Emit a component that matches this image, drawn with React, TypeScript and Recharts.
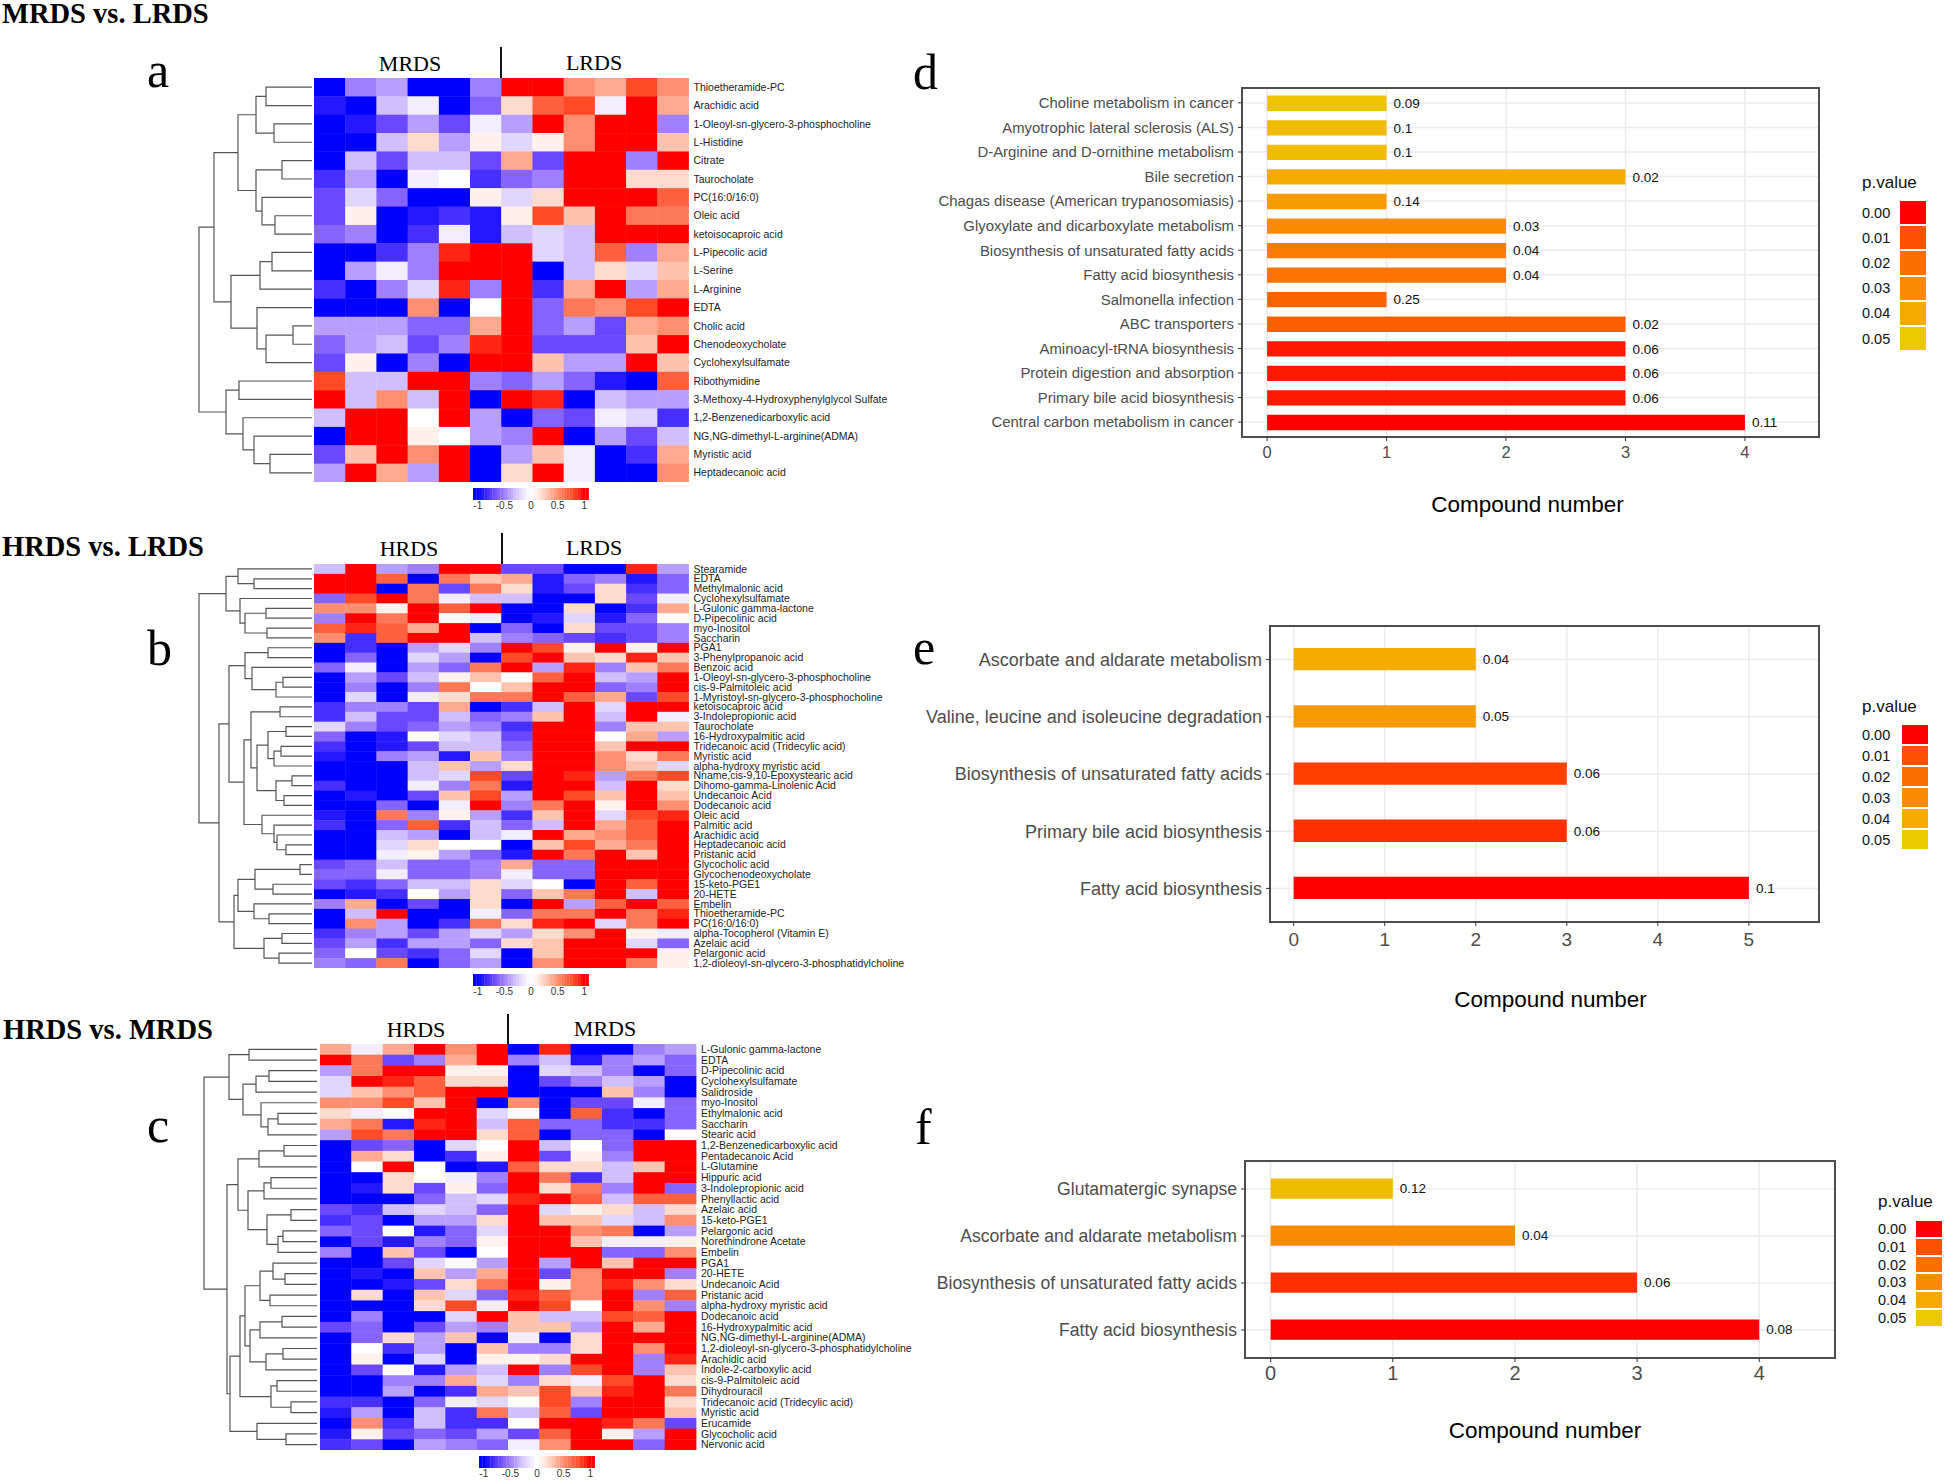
import React from "react";
import {
  Bar,
  BarChart,
  CartesianGrid,
  Cell,
  LabelList,
  Scatter,
  ScatterChart,
  XAxis,
  YAxis,
  usePlotArea,
} from "recharts";

const SANS = '"Liberation Sans", Arial, sans-serif';
const SERIF = '"Liberation Serif", "Times New Roman", serif';

// heatmap a, row labels top to bottom, values are z-score x 10
const metabolitesA = [
  "Thioetheramide-PC", "Arachidic acid", "1-Oleoyl-sn-glycero-3-phosphocholine", "L-Histidine", "Citrate",
  "Taurocholate", "PC(16:0/16:0)", "Oleic acid", "ketoisocaproic acid", "L-Pipecolic acid", "L-Serine",
  "L-Arginine", "EDTA", "Cholic acid", "Chenodeoxycholate", "Cyclohexylsulfamate", "Ribothymidine",
  "3-Methoxy-4-Hydroxyphenylglycol Sulfate", "1,2-Benzenedicarboxylic acid", "NG,NG-dimethyl-L-arginine(ADMA)",
  "Myristic acid", "Heptadecanoic acid",
];
const valuesA = [
  [-10, -5, -4, -10, -10, -5, 10, 10, 5, 4, 8, 5],
  [-9, -10, -3, -1, -10, -6, 2, 7, 8, -1, 10, 4],
  [-10, -9, -7, -4, -7, -1, -4, 10, 5, 10, 10, -5],
  [-10, -10, -3, 2, -4, 1, -2, 1, 5, 10, 10, 3],
  [-10, -3, -7, -3, -3, -7, 4, -7, 10, 10, -5, 10],
  [-8, -4, -10, -1, 0, -8, -6, -5, 10, 10, 2, 2],
  [-7, -2, -6, -10, -10, 1, -2, 2, 10, 10, 10, 7],
  [-7, 1, -10, -9, -8, -9, 1, 8, 3, 10, 6, 6],
  [-6, -5, -10, -8, -1, -9, -3, -2, -3, 10, 10, 10],
  [-10, -10, -8, -5, 9, 10, 10, -2, -3, 7, -5, 4],
  [-10, -4, -1, -5, 10, 10, 10, -10, -3, 2, -2, 3],
  [-8, -10, -5, -2, 9, -5, 10, -8, 4, 10, -4, 4],
  [-10, -10, -10, 5, -10, 0, 10, -6, 6, 5, 8, 10],
  [-4, -4, -4, -6, -6, 4, 10, -6, -4, -7, 4, 5],
  [-6, -4, -3, -7, -5, 9, 10, -7, -7, -7, 3, 10],
  [-7, 1, -10, -5, -10, 10, 10, 3, -4, -4, 10, 3],
  [8, -3, -3, 10, 10, -5, -6, -4, -6, -9, -10, 7],
  [10, -3, 5, -3, 10, -10, 10, 9, -10, -3, -4, -4],
  [-3, 10, 10, 0, 10, -4, -10, -6, -7, -1, -2, -8],
  [-10, 10, 10, 1, 0, -4, -5, 10, -10, -4, -7, -3],
  [-7, 3, 10, 5, 10, -10, -4, 3, -1, -10, -8, 4],
  [-4, 10, 4, -4, 10, -10, 2, 10, -1, -10, -10, 5],
];
// dendrograms: [height, upper, lower], 0 is a leaf
const treeA = [113,
  [98,
    [74,
      [56, [46, 0, 0], [38, 0, 0]],
      [56, [30, 0, 0], [50, 0, [37, 0, 0]]]],
    [81,
      [52, [40, 0, 0], 0],
      [55, 0, [46, [19, 0, 0], 0]]]],
  [86, [73, 0, 0], [69, 0, [58, 0, [42, 0, 0]]]]];

const metabolitesB = [
  "Stearamide", "EDTA", "Methylmalonic acid", "Cyclohexylsulfamate", "L-Gulonic gamma-lactone", "D-Pipecolinic acid",
  "myo-Inositol", "Saccharin", "PGA1", "3-Phenylpropanoic acid", "Benzoic acid", "1-Oleoyl-sn-glycero-3-phosphocholine",
  "cis-9-Palmitoleic acid", "1-Myristoyl-sn-glycero-3-phosphocholine", "ketoisocaproic acid", "3-Indolepropionic acid",
  "Taurocholate", "16-Hydroxypalmitic acid", "Tridecanoic acid (Tridecylic acid)", "Myristic acid",
  "alpha-hydroxy myristic acid", "Nname,cis-9,10-Epoxystearic acid", "Dihomo-gamma-Linolenic Acid", "Undecanoic Acid",
  "Dodecanoic acid", "Oleic acid", "Palmitic acid", "Arachidic acid", "Heptadecanoic acid", "Pristanic acid",
  "Glycocholic acid", "Glycochenodeoxycholate", "15-keto-PGE1", "20-HETE", "Embelin", "Thioetheramide-PC",
  "PC(16:0/16:0)", "alpha-Tocopherol (Vitamin E)", "Azelaic acid", "Pelargonic acid",
  "1,2-dioleoyl-sn-glycero-3-phosphatidylcholine",
];
const valuesB = [
  [-3, 10, -4, -5, 10, 10, -7, -7, -10, -10, 9, -4],
  [10, 10, 7, -10, 6, 3, 4, -9, -6, -5, -9, -6],
  [10, 10, -10, 6, -7, 6, 2, -9, -7, 2, -8, -6],
  [-6, 8, 10, 6, -1, -3, -3, -10, -10, 2, -7, -1],
  [5, 5, 1, 10, 7, 10, -10, -10, 2, -10, -8, 4],
  [-5, 10, 6, 10, 0, -1, -10, -9, -2, -9, -6, 0],
  [7, 9, 7, 4, 10, -10, -6, -10, 2, -7, -7, -5],
  [5, -8, 7, 10, 10, -3, -5, -6, -7, -8, -7, -5],
  [-10, -8, -10, -4, -2, -5, 10, 8, 1, 10, 1, 10],
  [-10, -6, -10, -2, -4, -10, 8, 10, 3, 2, 9, 3],
  [-6, -1, -10, -4, -6, 6, 10, -4, 9, -5, 3, 6],
  [-10, -4, -7, -3, 1, 3, 0, 7, 10, -3, -4, 10],
  [-10, -5, -10, -5, 6, 0, 3, 10, 10, -6, -5, 10],
  [-10, -2, -10, -1, 2, 6, 6, 10, 7, 4, -7, 8],
  [-8, -5, -5, -7, 4, -10, -8, -3, 10, -2, 10, 10],
  [-8, -3, -7, -7, -3, -6, -5, 3, 10, -3, 10, -1],
  [-2, -5, -7, -6, -4, -5, -8, 10, 10, -5, 3, 3],
  [-6, -10, -9, 0, -2, -3, -7, 10, 10, 0, 4, -4],
  [-8, -10, -9, -7, -3, -3, -6, 10, 10, 3, 10, 10],
  [-9, -10, -5, -4, -9, 3, -5, 10, 10, 5, 2, 6],
  [-10, -10, -10, -3, 3, -4, 2, 10, 10, 5, 3, -2],
  [-10, -10, -10, -3, -2, 8, -7, 10, 9, -4, 6, 8],
  [-8, -10, -10, -1, -5, 6, -9, 10, 10, -3, 10, 2],
  [-10, -9, -10, -7, 3, 8, -4, 10, 8, 3, 10, 3],
  [-10, -10, -6, -10, -1, 10, -5, 6, 10, 1, 10, 5],
  [-9, -10, 6, -5, 1, -4, -8, 3, 10, -2, 8, 9],
  [-8, -10, -6, 7, -8, -3, -6, -3, 10, 4, 7, 10],
  [-10, -10, -3, -4, -10, -3, -1, 10, 4, 5, 7, 10],
  [-10, -10, -2, 2, 0, 0, -10, 3, 8, 4, 6, 10],
  [-10, -10, -1, 1, -4, -6, -9, 10, 6, 10, 3, 10],
  [-7, -6, -3, -6, -6, -5, 4, -6, -6, 10, 10, 10],
  [-6, -6, -1, -6, -6, -5, -1, -6, -6, 10, 10, 10],
  [-7, -8, -6, -3, -3, 2, -2, 0, -10, 10, 7, 10],
  [-10, -9, -8, 0, -4, 2, -6, 3, 6, 10, -3, 10],
  [-5, 4, -10, -7, -10, 2, -10, 10, -4, 7, 10, 7],
  [-10, -3, 10, -10, -10, -1, -6, 6, 6, 10, 6, 9],
  [-10, 5, -4, -10, -8, 6, 2, 9, 10, -2, 6, 10],
  [-8, -5, -4, -7, -4, -2, -4, 2, 5, 10, 1, -1],
  [-7, -4, -8, -4, -4, -6, 2, 3, 10, 10, -2, -6],
  [-6, 0, -7, -8, -6, -2, -10, 3, 10, 10, 10, 1],
  [-5, -6, 6, -10, -6, -4, -10, 5, 10, 10, 6, 1],
];
const treeB = [113,
  [86, [74, 0, [58, 0, 0]], [72, 0, [67, [46, 0, 0], [45, 0, 0]]]],
  [93,
    [83,
      [67, [44, 0, 0], [60, 0, [36, [29, 0, 0], 0]]],
      [68,
        [61, [32, 0, 0], [55, [44, [26, 0, 0], [38, [31, 0, 0], 0]], [36, [20, 0, 0], [28, 0, 0]]]],
        [50, 0, [38, 0, [35, 0, [26, 0, 0]]]]]],
    [78,
      [74, [57, [12, 0, 0], [39, 0, 0]], [58, 0, [43, 0, 0]]],
      [48, [30, 0, 0], [33, 0, 0]]]]];

const metabolitesC = [
  "L-Gulonic gamma-lactone", "EDTA", "D-Pipecolinic acid", "Cyclohexylsulfamate", "Salidroside", "myo-Inositol",
  "Ethylmalonic acid", "Saccharin", "Stearic acid", "1,2-Benzenedicarboxylic acid", "Pentadecanoic Acid", "L-Glutamine",
  "Hippuric acid", "3-Indolepropionic acid", "Phenyllactic acid", "Azelaic acid", "15-keto-PGE1", "Pelargonic acid",
  "Norethindrone Acetate", "Embelin", "PGA1", "20-HETE", "Undecanoic Acid", "Pristanic acid",
  "alpha-hydroxy myristic acid", "Dodecanoic acid", "16-Hydroxypalmitic acid", "NG,NG-dimethyl-L-arginine(ADMA)",
  "1,2-dioleoyl-sn-glycero-3-phosphatidylcholine", "Arachidic acid", "Indole-2-carboxylic acid", "cis-9-Palmitoleic acid",
  "Dihydrouracil", "Tridecanoic acid (Tridecylic acid)", "Myristic acid", "Erucamide", "Glycocholic acid", "Nervonic acid",
];
const valuesC = [
  [4, -1, 4, 10, 5, 10, -10, 9, -10, -10, -5, -4],
  [10, 6, -7, -5, 4, 10, -5, -3, -9, -5, -4, -6],
  [-4, 6, 10, 10, 1, 1, -10, -2, -3, -5, -10, -6],
  [-2, 10, 9, 7, 2, 2, -10, -7, -5, -3, -4, -10],
  [-2, 3, 5, 7, 10, 10, -10, -10, -10, 3, -5, -10],
  [5, 5, 8, 3, 10, -10, 5, -10, -7, -7, -1, -6],
  [2, -1, 0, 10, 10, -2, 0, -10, 7, -8, -10, -6],
  [4, 6, -9, 9, 10, -3, 7, -6, -6, -8, -8, -6],
  [-4, 8, 6, 10, 10, 2, 7, -10, -6, -6, -10, 0],
  [-10, -7, -6, -10, -2, 0, 10, -3, 0, -6, 10, 10],
  [-10, 4, 2, -10, -8, 1, 10, -7, 1, -5, 10, 10],
  [-10, 0, 10, 0, -10, -9, 7, 2, 2, -3, 3, 10],
  [-10, -10, 2, 0, -1, -5, 10, 6, -8, -3, 10, 10],
  [-10, -9, 2, -7, 1, -6, 10, 2, 6, -5, 10, -6],
  [-10, -10, -10, -6, -3, -2, 9, 10, 7, -3, 7, 7],
  [-7, -8, -3, -2, -3, -6, 10, -2, 1, 2, -3, 2],
  [-8, -7, -10, -4, -4, 2, 10, 3, 3, -2, -3, 5],
  [-6, -7, 0, -9, -6, -2, 10, 10, 5, 6, -10, -4],
  [-10, -7, -9, -5, -6, 1, 10, 10, 3, -1, -1, 1],
  [-5, -10, 3, -7, -10, 0, 10, 10, 10, -6, -6, 5],
  [-10, -10, -7, -2, 0, -4, 10, -4, 10, 3, 10, 10],
  [-10, -9, -10, 3, -4, 4, 10, -7, 5, 10, 10, -5],
  [-10, -10, -9, -7, 2, 6, 10, 1, 5, 9, 5, 2],
  [-10, 2, -10, 3, -2, -6, 9, 7, 5, 10, -5, 7],
  [-10, -10, -10, 2, 8, -1, 10, 8, 0, 10, 5, -5],
  [-10, -5, -10, -10, -2, 10, 3, -3, -3, 8, 7, 10],
  [-7, -6, -10, -7, -4, -5, 3, 3, -4, 10, 4, 10],
  [-10, -6, 2, -4, 3, -10, -1, -10, 2, 10, 10, 10],
  [-10, 0, -8, -4, -10, 3, -5, -5, 2, 10, 5, 10],
  [-10, 1, -10, -2, -10, 1, 1, 2, 10, 10, -5, 9],
  [-10, -7, 0, -9, -4, -3, 10, -5, 8, 10, -5, 3],
  [-10, -10, -5, -5, 4, -2, -5, 2, -1, 8, 10, 2],
  [-10, -10, -4, -10, -8, 4, 3, 8, 3, 9, 10, 6],
  [-8, -8, -10, -6, -1, -2, 0, 8, -5, 10, 10, 2],
  [-9, -4, -10, -3, -8, 6, -3, 7, -7, 10, 10, 3],
  [-10, 5, -8, -3, -8, -8, 0, 10, 10, 9, 6, -7],
  [-9, 1, -7, -6, -7, -4, -7, 7, 10, 1, -4, 10],
  [-8, -7, -10, -4, -5, -6, -1, 5, 10, 10, -6, 10],
];
const treeC = [113,
  [88, [68, 0, 0], [74, [61, [48, 0, 0], 0], [56, 0, [49, [39, 0, 0], 0]]]],
  [90,
    [79,
      [58, [33, 0, 0], 0],
      [69, [53, [46, 0, 0], 0], [50, [26, 0, 0], [39, [34, 0, 0], 0]]]],
    [87,
      [77,
        [72,
          [57, [44, 0, [32, 0, 0]], [47, 0, 0]],
          [67, [57, [35, 0, 0], 0], [51, [34, 0, 0], 0]]],
        [46, [40, 0, 0], [26, 0, 0]]],
      [60, 0, [31, 0, 0]]]]];

// pathway bars
const pathwaysD = [
  "Choline metabolism in cancer", "Amyotrophic lateral sclerosis (ALS)", "D-Arginine and D-ornithine metabolism",
  "Bile secretion", "Chagas disease (American trypanosomiasis)", "Glyoxylate and dicarboxylate metabolism",
  "Biosynthesis of unsaturated fatty acids", "Fatty acid biosynthesis", "Salmonella infection", "ABC transporters",
  "Aminoacyl-tRNA biosynthesis", "Protein digestion and absorption", "Primary bile acid biosynthesis",
  "Central carbon metabolism in cancer",
];
const countsD = [1, 1, 1, 3, 1, 2, 2, 2, 1, 3, 3, 3, 3, 4];
const impactD = ["0.09", "0.1", "0.1", "0.02", "0.14", "0.03", "0.04", "0.04", "0.25", "0.02", "0.06", "0.06", "0.06", "0.11"];
const pValuesD = [0.049, 0.046, 0.046, 0.04, 0.035, 0.03, 0.024, 0.021, 0.016, 0.015, 0.003, 0.003, 0.003, 0];

const pathwaysE = [
  "Ascorbate and aldarate metabolism", "Valine, leucine and isoleucine degradation",
  "Biosynthesis of unsaturated fatty acids", "Primary bile acid biosynthesis", "Fatty acid biosynthesis",
];
const countsE = [2, 2, 3, 3, 5];
const impactE = ["0.04", "0.05", "0.06", "0.06", "0.1"];
const pValuesE = [0.04, 0.035, 0.008, 0.006, 0];

const pathwaysF = [
  "Glutamatergic synapse", "Ascorbate and aldarate metabolism", "Biosynthesis of unsaturated fatty acids",
  "Fatty acid biosynthesis",
];
const countsF = [1, 2, 3, 4];
const impactF = ["0.12", "0.04", "0.06", "0.08"];
const pValuesF = [0.046, 0.03, 0.006, 0];

const legendTicks = [0, 0.01, 0.02, 0.03, 0.04, 0.05];
const colorBarTicks = [-1, -0.5, 0, 0.5, 1];

const heatStops: [number, number[]][] = [
  [-1, [0, 0, 255]], [-0.7, [106, 72, 255]], [-0.5, [160, 128, 255]], [-0.3, [208, 190, 255]], [-0.1, [242, 238, 255]],
  [0, [255, 255, 255]], [0.1, [255, 242, 236]], [0.3, [255, 196, 176]], [0.5, [255, 143, 112]], [0.8, [255, 74, 40]],
  [1, [255, 0, 0]],
];
const pStops: [number, number[]][] = [
  [0, [255, 0, 0]], [0.01, [255, 80, 0]], [0.02, [252, 112, 0]], [0.03, [249, 139, 0]], [0.04, [245, 170, 0]],
  [0.05, [235, 200, 0]],
];

function ramp(stops: [number, number[]][], v: number) {
  const t = Math.max(stops[0][0], Math.min(stops[stops.length - 1][0], v));
  for (let i = 1; i < stops.length; i++) {
    if (t <= stops[i][0]) {
      const [a, ca] = stops[i - 1];
      const [b, cb] = stops[i];
      const k = (t - a) / (b - a);
      const c = ca.map((x, j) => Math.round(x + (cb[j] - x) * k));
      return `rgb(${c[0]},${c[1]},${c[2]})`;
    }
  }
  return "#000";
}

function buildBrackets(tree: any) {
  const brackets: { x: number; y: number }[][] = [];
  let leaf = 0;
  const walk = (node: any): { h: number; y: number } => {
    if (node === 0) {
      leaf += 1;
      return { h: 0, y: leaf - 0.5 };
    }
    const up = walk(node[1]);
    const low = walk(node[2]);
    brackets.push([
      { x: up.h, y: up.y },
      { x: node[0], y: up.y },
      { x: node[0], y: low.y },
      { x: low.h, y: low.y },
    ]);
    return { h: node[0], y: (up.y + low.y) / 2 };
  };
  walk(tree);
  return brackets;
}

function Dendrogram({ tree, rows, left, top, height }: any) {
  const width = 120;
  return (
    <div style={{ position: "absolute", left: left - width, top }}>
      <ScatterChart width={width} height={height} margin={{ top: 0, right: 0, bottom: 0, left: 0 }}>
        <XAxis type="number" dataKey="x" domain={[0, width]} reversed hide />
        <YAxis type="number" dataKey="y" domain={[0, rows]} reversed hide />
        {buildBrackets(tree).map((b, i) => (
          <Scatter
            key={i}
            data={b}
            line={{ stroke: "#555", strokeWidth: 1.2 }}
            shape={() => <g />}
            isAnimationActive={false}
          />
        ))}
      </ScatterChart>
    </div>
  );
}

function Heatmap({ values, labels, left, top, plotWidth, height }: any) {
  const labelWidth = 260;
  const cols = values[0].length;
  const cellW = plotWidth / cols;
  const cellH = height / values.length;
  const cells = values.flatMap((row: number[], r: number) =>
    row.map((v, c) => ({ col: c + 0.5, row: r + 0.5, value: v / 10 }))
  );
  const Cellbox = (p: any) => (
    <rect
      x={p.cx - cellW / 2}
      y={p.cy - cellH / 2}
      width={cellW + 0.4}
      height={cellH + 0.4}
      fill={ramp(heatStops, p.payload.value)}
    />
  );
  // plain text tick, the default one wraps long names
  const RowLabel = (p: any) => (
    <text x={p.x} y={p.y} dy={3.6} textAnchor="start" fontSize={10.5} fill="#222" fontFamily={SANS}>
      {labels[Math.floor(p.payload.value)]}
    </text>
  );
  return (
    <div style={{ position: "absolute", left, top }}>
      <ScatterChart width={plotWidth + labelWidth} height={height} margin={{ top: 0, right: 0, bottom: 0, left: 0 }}>
        <XAxis type="number" dataKey="col" domain={[0, cols]} hide />
        <YAxis
          type="number"
          dataKey="row"
          orientation="right"
          domain={[0, labels.length]}
          reversed
          width={labelWidth}
          ticks={labels.map((_: string, i: number) => i + 0.5)}
          interval={0}
          axisLine={false}
          tickLine={false}
          tickSize={0}
          tickMargin={5}
          tick={RowLabel}
        />
        <Scatter data={cells} shape={Cellbox} isAnimationActive={false} />
      </ScatterChart>
    </div>
  );
}

function ColorBar({ left, top }: any) {
  const width = 116;
  const steps = Array.from({ length: 45 }, (_, i) => ({ v: -1.1 + i * 0.05, y: 0.5 }));
  const Step = (p: any) => (
    <rect x={p.cx - 1.4} y={p.cy - 6} width={2.9} height={12} fill={ramp(heatStops, p.payload.v)} />
  );
  return (
    <div style={{ position: "absolute", left, top }}>
      <ScatterChart width={width} height={32} margin={{ top: 0, right: 0, bottom: 0, left: 0 }}>
        <XAxis
          type="number"
          dataKey="v"
          domain={[-1.09, 1.09]}
          ticks={colorBarTicks}
          interval={0}
          height={20}
          axisLine={false}
          tickLine={false}
          tickSize={0}
          tickMargin={2}
          tick={{ fontSize: 10, fill: "#333", fontFamily: SANS }}
          allowDataOverflow
        />
        <YAxis type="number" dataKey="y" domain={[0, 1]} hide />
        <Scatter data={steps} shape={Step} isAnimationActive={false} />
      </ScatterChart>
    </div>
  );
}

function PlotFrame() {
  const p = usePlotArea();
  if (!p) return null;
  return <rect x={p.x} y={p.y} width={p.width} height={p.height} fill="none" stroke="#4d4d4d" strokeWidth={2} />;
}

function PathwayBars({ names, counts, impact, pValues, frame, domain, ticks, barSize, pad, font, tickFont, tickGap, titleDist, titleDx }: any) {
  const axisWidth = 350;
  const data = names.map((name: string, i: number) => ({ name, count: counts[i], impact: impact[i], p: pValues[i] }));
  const plotW = frame.right - frame.left;
  const plotH = frame.bottom - frame.top;
  const axisH = titleDist + 24;
  return (
    <div style={{ position: "absolute", left: frame.left - axisWidth, top: frame.top - 2 }}>
      <BarChart
        layout="vertical"
        data={data}
        width={axisWidth + plotW + 2}
        height={plotH + axisH + 2}
        margin={{ top: 2, right: 2, bottom: 0, left: 0 }}
        barSize={barSize}
      >
        <CartesianGrid stroke="#ebebeb" strokeWidth={1.5} />
        <XAxis
          type="number"
          domain={domain}
          ticks={ticks}
          interval={0}
          height={axisH}
          allowDataOverflow
          axisLine={false}
          tickLine={{ stroke: "#333" }}
          tickSize={4}
          tickMargin={tickGap}
          tick={{ fontSize: tickFont, fill: "#4d4d4d", fontFamily: SANS }}
          label={{
            value: "Compound number",
            position: "insideBottom",
            offset: 16,
            dx: titleDx,
            style: { fontSize: 22.5, fill: "#000", fontFamily: SANS },
          }}
        />
        <YAxis
          type="category"
          dataKey="name"
          width={axisWidth}
          interval={0}
          padding={{ top: pad, bottom: pad }}
          axisLine={false}
          tickLine={{ stroke: "#333" }}
          tickSize={4}
          tickMargin={4}
          tick={{ fontSize: font, fill: "#4d4d4d", fontFamily: SANS }}
        />
        <Bar dataKey="count" isAnimationActive={false}>
          {data.map((d: any, i: number) => (
            <Cell key={i} fill={ramp(pStops, d.p)} />
          ))}
          <LabelList dataKey="impact" position="right" offset={7} style={{ fontSize: 13.5, fill: "#111", fontFamily: SANS }} />
        </Bar>
        <PlotFrame />
      </BarChart>
    </div>
  );
}

function PValueLegend({ x, swatchX, titleY, top, rowH }: any) {
  return (
    <>
      <div style={{ position: "absolute", left: x, top: titleY - 10, fontFamily: SANS, fontSize: 17, lineHeight: "20px", color: "#111" }}>
        p.value
      </div>
      {legendTicks.map((t, i) => (
        <React.Fragment key={t}>
          <div
            style={{
              position: "absolute",
              left: swatchX,
              top: top + i * rowH + 1,
              width: 26,
              height: rowH - 2,
              background: ramp(pStops, t),
            }}
          />
          <div
            style={{
              position: "absolute",
              left: x,
              top: top + i * rowH + rowH / 2 - 9,
              fontFamily: SANS,
              fontSize: 14.5,
              lineHeight: "18px",
              color: "#111",
            }}
          >
            {t.toFixed(2)}
          </div>
        </React.Fragment>
      ))}
    </>
  );
}

function Caption({ x, y, size, bold, center, children }: any) {
  return (
    <div
      style={{
        position: "absolute",
        left: x,
        top: y - size / 2,
        transform: center ? "translateX(-50%)" : undefined,
        fontFamily: SERIF,
        fontSize: size,
        lineHeight: `${size}px`,
        fontWeight: bold ? 700 : 400,
        color: "#000",
        whiteSpace: "nowrap",
      }}
    >
      {children}
    </div>
  );
}

function Divider({ x, top, bottom }: any) {
  return <div style={{ position: "absolute", left: x - 1, top, width: 2, height: bottom - top, background: "#111" }} />;
}

export default function App() {
  return (
    <div style={{ position: "absolute", left: 0, top: 0, width: 1946, height: 1482, background: "#fff", overflow: "hidden" }}>
      <Caption x={2} y={14.25} size={28.5} bold>MRDS vs. LRDS</Caption>
      <Caption x={2} y={547} size={28.5} bold>HRDS vs. LRDS</Caption>
      <Caption x={3} y={1030} size={28.5} bold>HRDS vs. MRDS</Caption>

      <Caption x={147} y={70} size={50}>a</Caption>
      <Caption x={147} y={648} size={50}>b</Caption>
      <Caption x={147} y={1125} size={50}>c</Caption>
      <Caption x={913} y={72} size={50}>d</Caption>
      <Caption x={913} y={647} size={50}>e</Caption>
      <Caption x={915} y={1127} size={50}>f</Caption>

      <Caption x={410} y={64} size={22} center>MRDS</Caption>
      <Caption x={594} y={63} size={22} center>LRDS</Caption>
      <Divider x={501} top={47} bottom={78} />
      <Dendrogram tree={treeA} rows={metabolitesA.length} left={312} top={78} height={404} />
      <Heatmap values={valuesA} labels={metabolitesA} left={314} top={78} plotWidth={374.5} height={404} />
      <ColorBar left={473} top={488} />

      <Caption x={409} y={549} size={22} center>HRDS</Caption>
      <Caption x={594} y={548} size={22} center>LRDS</Caption>
      <Divider x={501.5} top={533} bottom={564} />
      <Dendrogram tree={treeB} rows={metabolitesB.length} left={312} top={564} height={404} />
      <Heatmap values={valuesB} labels={metabolitesB} left={314} top={564} plotWidth={374.5} height={404} />
      <ColorBar left={473} top={974} />

      <Caption x={416} y={1030} size={22} center>HRDS</Caption>
      <Caption x={605} y={1029} size={22} center>MRDS</Caption>
      <Divider x={508} top={1014} bottom={1044} />
      <Dendrogram tree={treeC} rows={metabolitesC.length} left={317} top={1044} height={406} />
      <Heatmap values={valuesC} labels={metabolitesC} left={320} top={1044} plotWidth={376} height={406} />
      <ColorBar left={479} top={1456} />

      <PathwayBars
        names={pathwaysD}
        counts={countsD}
        impact={impactD}
        pValues={pValuesD}
        frame={{ left: 1242, right: 1819, top: 88, bottom: 437 }}
        domain={[-0.21, 4.62]}
        ticks={[0, 1, 2, 3, 4]}
        barSize={15.3}
        pad={2.6}
        font={14.9}
        tickFont={16.5}
        tickGap={5}
        titleDist={67}
        titleDx={-3}
      />
      <PValueLegend x={1862} swatchX={1900} titleY={183} top={200} rowH={25.2} />

      <PathwayBars
        names={pathwaysE}
        counts={countsE}
        impact={impactE}
        pValues={pValuesE}
        frame={{ left: 1270, right: 1819, top: 626, bottom: 922 }}
        domain={[-0.26, 5.77]}
        ticks={[0, 1, 2, 3, 4, 5]}
        barSize={22.3}
        pad={5}
        font={18}
        tickFont={19}
        tickGap={7}
        titleDist={77}
        titleDx={6}
      />
      <PValueLegend x={1862} swatchX={1902} titleY={707} top={724} rowH={21} />

      <PathwayBars
        names={pathwaysF}
        counts={countsF}
        impact={impactF}
        pValues={pValuesF}
        frame={{ left: 1245, right: 1835, top: 1161, bottom: 1358 }}
        domain={[-0.21, 4.62]}
        ticks={[0, 1, 2, 3, 4]}
        barSize={20.3}
        pad={4.5}
        font={17.6}
        tickFont={20}
        tickGap={4}
        titleDist={72}
        titleDx={5}
      />
      <PValueLegend x={1878} swatchX={1916} titleY={1202} top={1220} rowH={17.8} />
    </div>
  );
}
